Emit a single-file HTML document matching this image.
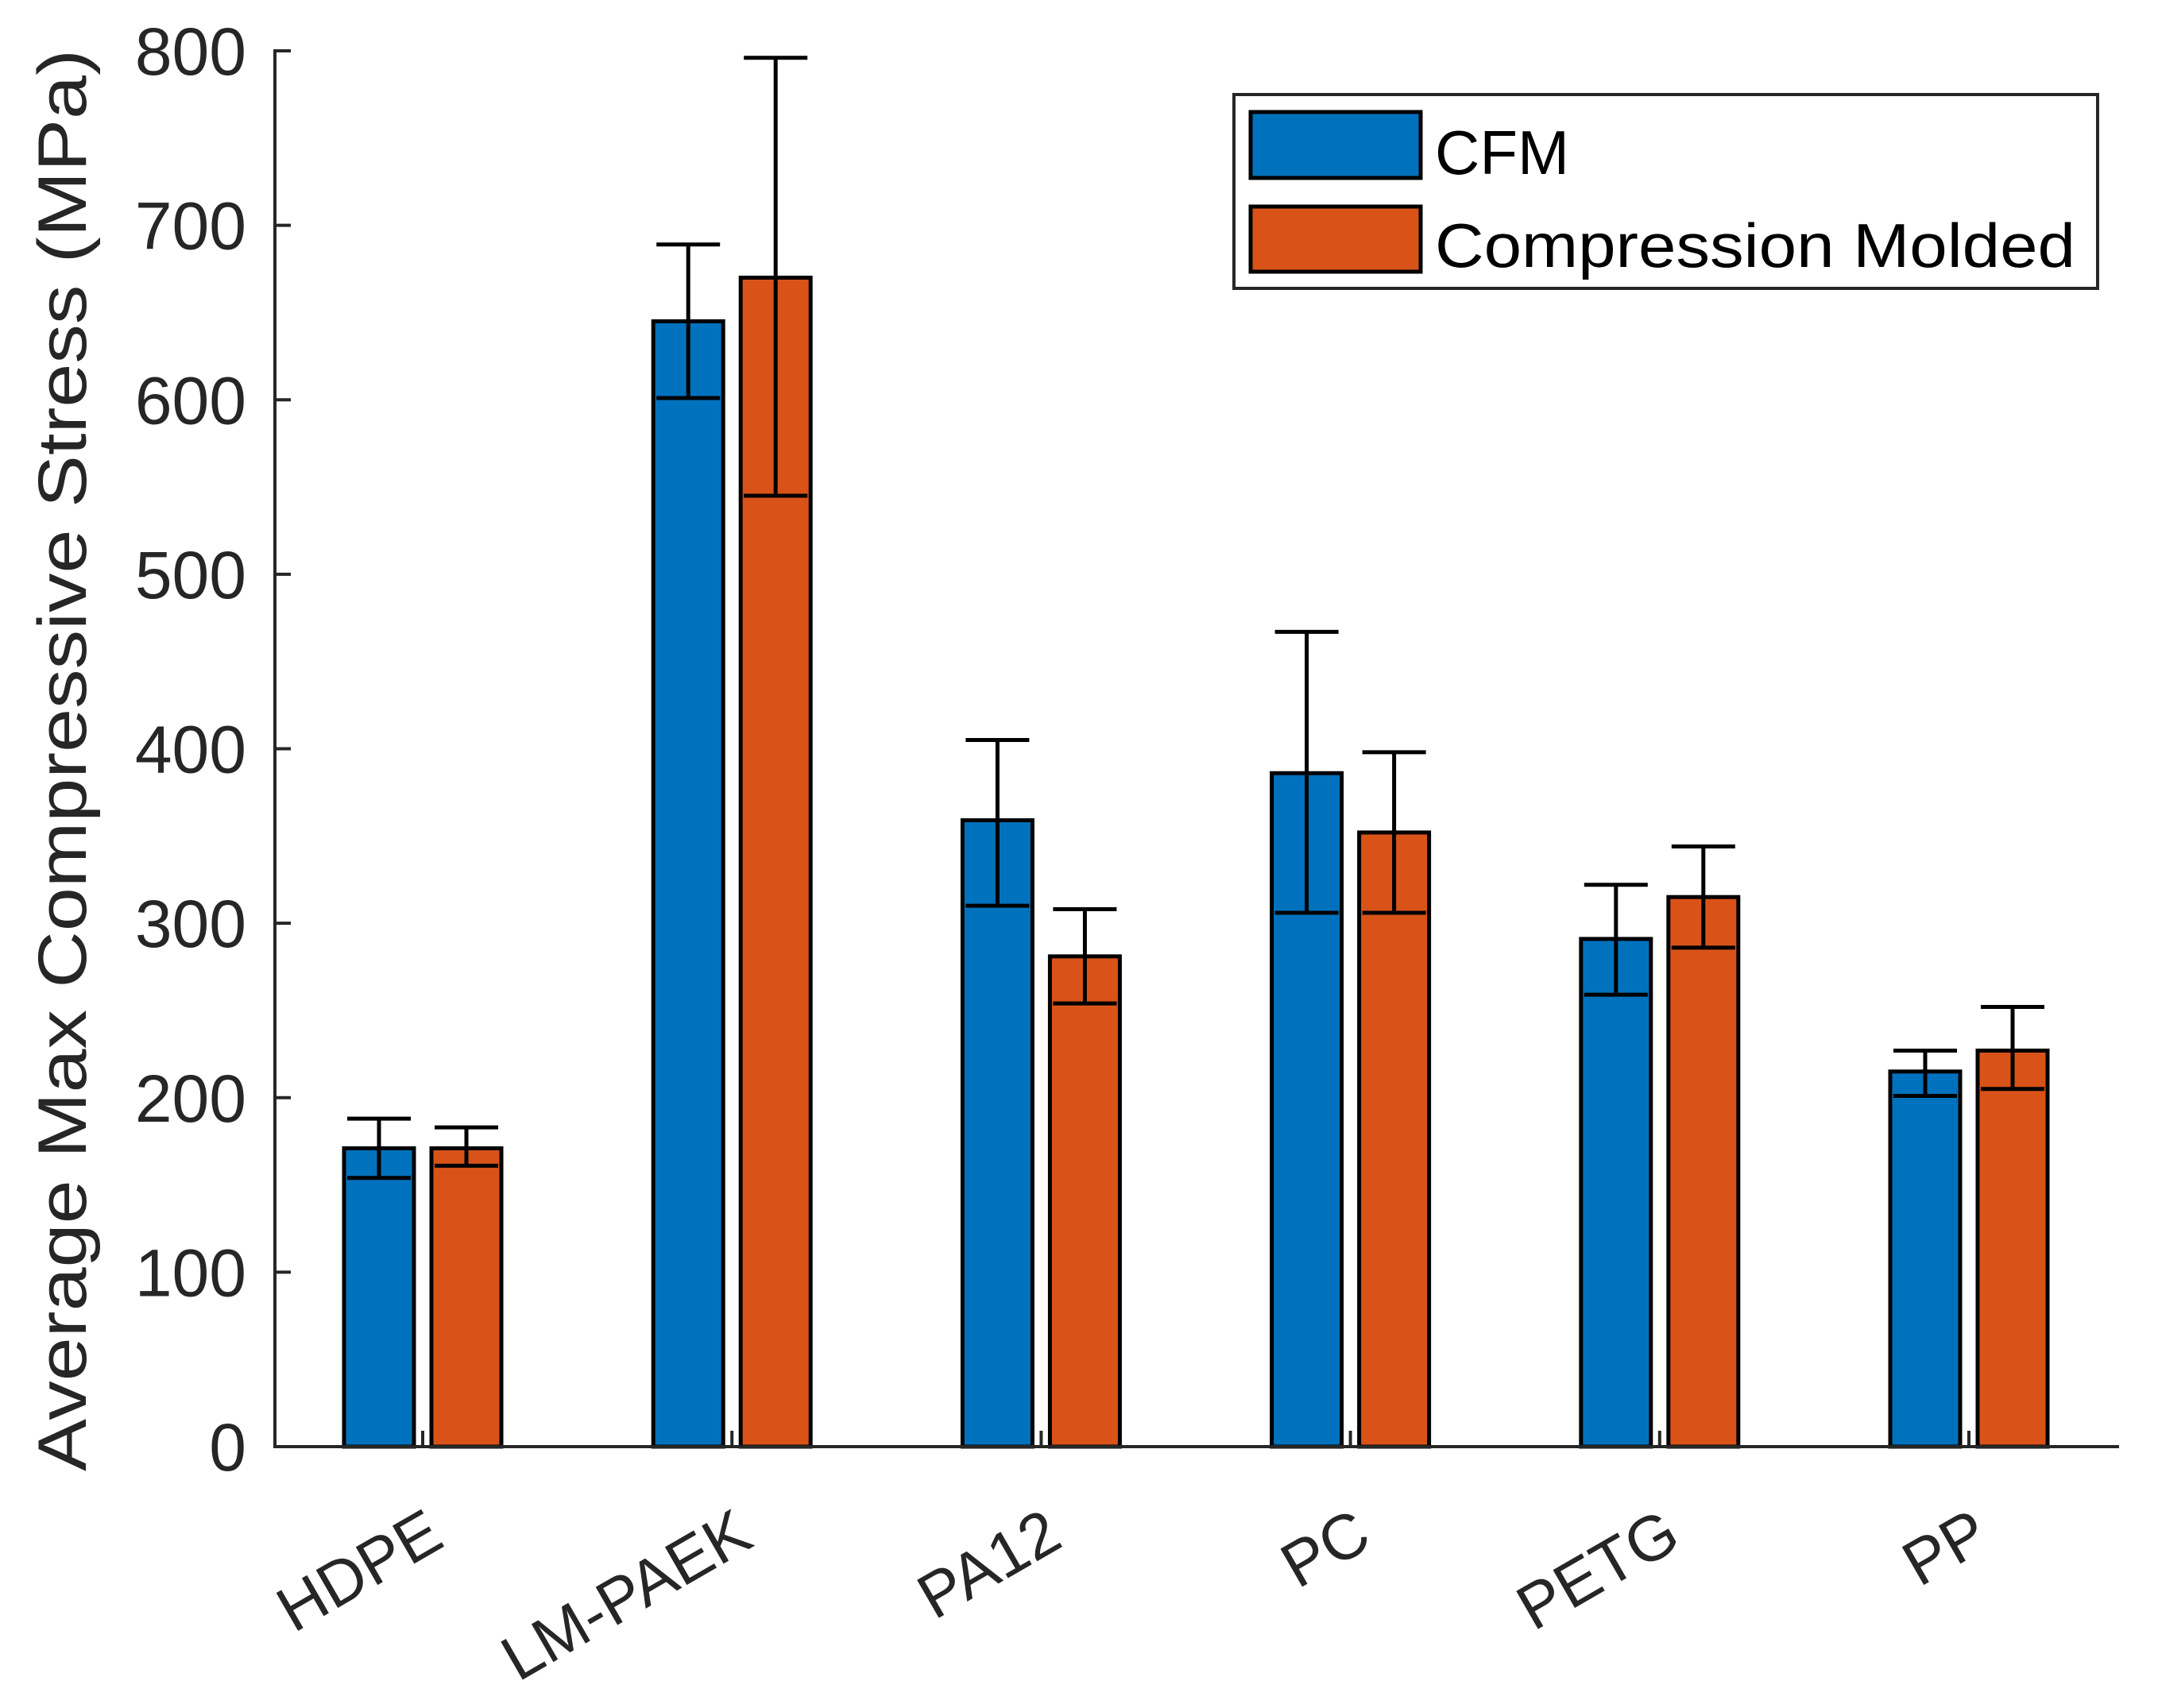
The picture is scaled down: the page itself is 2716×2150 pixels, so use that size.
<!DOCTYPE html>
<html><head><meta charset="utf-8"><style>
html,body{margin:0;padding:0;background:#fff;}
svg{display:block;font-family:"Liberation Sans",Arial,sans-serif;}
</style></head><body>
<svg id="chart" width="2716" height="2150" viewBox="0 0 2716 2150" xmlns="http://www.w3.org/2000/svg">
<rect x="0" y="0" width="2716" height="2150" fill="#fff"/>
<g id="plot"></g>
<text transform="translate(108,957) rotate(-90)" text-anchor="middle" font-size="86" fill="#262626" textLength="1790" lengthAdjust="spacingAndGlyphs">Average Max Compressive Stress (MPa)</text>
<g>
<rect x="1553" y="119" width="1087" height="244" fill="#fff" stroke="#262626" stroke-width="4"/>
<rect x="1574" y="141" width="214" height="83" fill="#0072BD" stroke="#000" stroke-width="5"/>
<text x="1806" y="219" font-size="78" fill="#000">CFM</text>
<rect x="1574" y="260" width="214" height="82" fill="#D95319" stroke="#000" stroke-width="5"/>
<text x="1806" y="336" font-size="78" fill="#000" textLength="806" lengthAdjust="spacingAndGlyphs">Compression Molded</text>
</g>
</svg>
<script>
const categories = ["HDPE","LM-PAEK","PA12","PC","PETG","PP"];
const cfmValues = [171, 645, 359, 386, 291, 215];
const cfmLow = [154, 601, 310, 306, 259, 201];
const cfmHigh = [188, 689, 405, 467, 322, 227];
const cmValues = [171, 670, 281, 352, 315, 227];
const cmLow = [161, 545, 254, 306, 286, 205];
const cmHigh = [183, 796, 308, 398, 344, 252];
const yTicks = [0,100,200,300,400,500,600,700,800];

const NS = "http://www.w3.org/2000/svg";
const plot = document.getElementById("plot");
const X0 = 346, X1 = 2667, Y0 = 1821, Y800 = 64;
function yScale(v){ return Y0 - (v/800)*(Y0-Y800); }
function xCenter(i){ return 532 + 389.2*i; }
function mk(tag, attrs){ const e=document.createElementNS(NS,tag); for(const k in attrs) e.setAttribute(k,attrs[k]); plot.appendChild(e); return e; }

let ya = mk("line",{x1:X0,y1:Y800-2,x2:X0,y2:Y0,stroke:"#262626","stroke-width":4});


yTicks.forEach(t=>{
  const y=yScale(t);
  const tk=mk("line",{x1:X0,y1:y,x2:X0+20,y2:y,stroke:"#262626","stroke-width":4});
  
  
  const tx=mk("text",{x:310,y:y+30,"text-anchor":"end","font-size":84,fill:"#262626"});
  tx.textContent=t;
  
  
});

const BW = 88, OFF = 55;
function bar(cx, v, lo, hi, color, name){
  const y=yScale(v);
  const r=mk("rect",{x:cx-BW/2,y:y,width:BW,height:Y0-y,fill:color,stroke:"#000","stroke-width":5});
  
  
  const yl=yScale(lo), yh=yScale(hi);
  const g=document.createElementNS(NS,"g"); plot.appendChild(g);
  
  
  [[cx,yl,cx,yh],[cx-40,yl,cx+40,yl],[cx-40,yh,cx+40,yh]].forEach(p=>{
    const l=document.createElementNS(NS,"line");
    l.setAttribute("x1",p[0]);l.setAttribute("y1",p[1]);l.setAttribute("x2",p[2]);l.setAttribute("y2",p[3]);
    l.setAttribute("stroke","#000");l.setAttribute("stroke-width",5);
    g.appendChild(l);
  });
}
categories.forEach((c,i)=>{
  const cx=xCenter(i);
  bar(cx-OFF, cfmValues[i], cfmLow[i], cfmHigh[i], "#0072BD", "bar-cfm-"+c.toLowerCase());
  bar(cx+OFF, cmValues[i], cmLow[i], cmHigh[i], "#D95319", "bar-compression-molded-"+c.toLowerCase());
  const tk=mk("line",{x1:cx,y1:Y0,x2:cx,y2:Y0-20,stroke:"#262626","stroke-width":4});
  
  
  const tx=mk("text",{x:0,y:0,"text-anchor":"end","font-size":80,fill:"#262626",transform:"translate("+(cx+30)+","+(Y0+124)+") rotate(-30)"});
  tx.textContent=c;
  
  
});
let xa = mk("line",{x1:X0-2,y1:Y0,x2:X1,y2:Y0,stroke:"#262626","stroke-width":4});


</script>
</body></html>
